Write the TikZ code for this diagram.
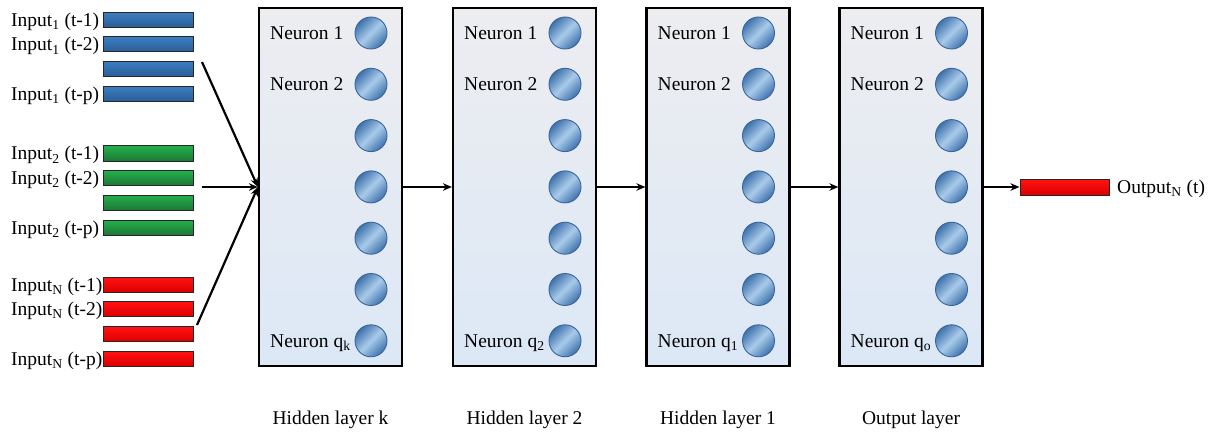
\documentclass[tikz,border=0pt]{standalone}
\usepackage{fontspec}
\setmainfont{Liberation Serif}
\usetikzlibrary{arrows.meta}
\definecolor{boxtop}{HTML}{EDEDF0}
\definecolor{boxbot}{HTML}{DCE8F6}
\definecolor{nedge}{HTML}{3A659C}
\definecolor{ndark}{HTML}{3F72AC}
\definecolor{nlight}{HTML}{A9CBEA}
\definecolor{bluetop}{HTML}{3B7DC1}
\definecolor{bluebot}{HTML}{2A5E97}
\definecolor{greentop}{HTML}{23B04B}
\definecolor{greenbot}{HTML}{1E7636}
\definecolor{redtop}{HTML}{FF1212}
\definecolor{redbot}{HTML}{DD0000}
\tikzset{
  layerbox/.style={draw=black, line width=2.2pt, top color=boxtop, bottom color=boxbot,
    minimum width=143, minimum height=358, inner sep=0},
  neuron/.style={circle, draw=nedge, line width=0.9pt, minimum size=32, inner sep=0,
    shading=axis, top color=ndark, bottom color=ndark, middle color=nlight, shading angle=45},
  bar/.style={draw=black!85, line width=1pt, minimum width=90, minimum height=15, inner sep=0},
  bluebar/.style={bar, top color=bluetop, bottom color=bluebot},
  greenbar/.style={bar, top color=greentop, bottom color=greenbot},
  redbar/.style={bar, top color=redtop, bottom color=redbot},
  txt/.style={font=\fontsize{19.5}{22}\selectfont, inner sep=0, anchor=base west},
  ltxt/.style={font=\fontsize{19.5}{22}\selectfont, inner sep=0, anchor=base},
  arr/.style={line width=2.2pt, -{Stealth[length=9pt,width=7.5pt]}}
}
\begin{document}
\begin{tikzpicture}[x=1pt,y=-1pt]
\useasboundingbox (0,0) rectangle (1215,433);

% layers
\foreach \n/\cx/\q/\lab in {1/330.5/k/Hidden layer k, 2/524.5/2/Hidden layer 2, 3/718/1/Hidden layer 1, 4/911/o/Output layer}{
  \node[layerbox] (L\n) at (\cx,187) {};
  \foreach \j in {1,...,7}{
    \node[neuron] (L\n-\j) at (\cx+40.5,{33+51.3*(\j-1)}) {};
  }
  \node[txt] (L\n-t1) at (\cx-60.5,{33+6.5}) {Neuron 1};
  \node[txt] (L\n-t2) at (\cx-60.5,{84.3+6.5}) {Neuron 2};
  \node[txt] (L\n-tq) at (\cx-60.5,{340.8+6.5}) {Neuron q\textsubscript{\q}};
  \node[ltxt] (L\n-lab) at (\cx,424) {\lab};
}

% inputs
\foreach \k/\y/\s/\t in {a1/20/1/(t-1), a2/44.5/1/(t-2), a4/94/1/(t-p),
                          b1/153.5/2/(t-1), b2/178/2/(t-2), b4/227.5/2/(t-p),
                          c1/284.5/N/(t-1), c2/309/N/(t-2), c4/359/N/(t-p)}{
  \node[txt] (lab-\k) at (11,\y+6.5) {Input\textsubscript{\s} \t};
}
\node[bluebar] (a1) at (148,20) {};
\node[bluebar] (a2) at (148,44.5) {};
\node[bluebar] (a3) at (148,69) {};
\node[bluebar] (a4) at (148,94) {};
\node[greenbar] (b1) at (148,153.5) {};
\node[greenbar] (b2) at (148,178) {};
\node[greenbar] (b3) at (148,202.5) {};
\node[greenbar] (b4) at (148,227.5) {};
\node[redbar] (c1) at (148,284.5) {};
\node[redbar] (c2) at (148,309) {};
\node[redbar] (c3) at (148,334) {};
\node[redbar] (c4) at (148,359) {};

% input arrows
\coordinate (s1) at (202,62);
\coordinate (s2) at (202,187);
\coordinate (s3) at (197,325);
\draw[arr] (s1) -- (L1.west);
\draw[arr] (s2) -- (L1.west);
\draw[arr] (s3) -- (L1.west);

% layer arrows
\draw[arr] (L1.east) -- (L2.west);
\draw[arr] (L2.east) -- (L3.west);
\draw[arr] (L3.east) -- (L4.west);

% output
\node[redbar, minimum width=89, minimum height=16] (out) at (1064.5,187) {};
\draw[arr] (L4.east) -- (out.west);
\node[txt] (outlab) at (1117,187+6.5) {Output\textsubscript{N} (t)};
\end{tikzpicture}
\end{document}
